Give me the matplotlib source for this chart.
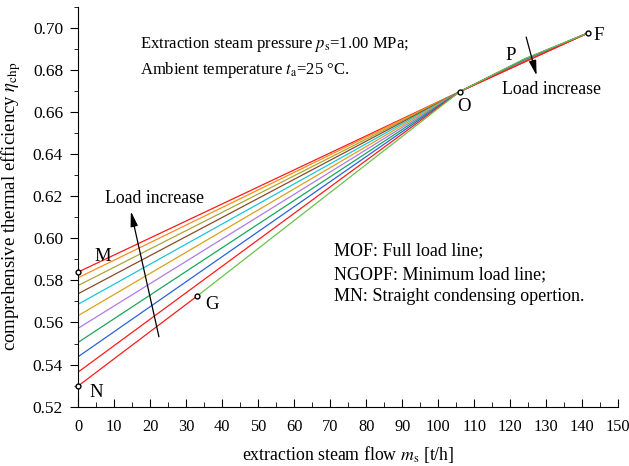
import numpy as np
import matplotlib.pyplot as plt

plt.rcParams['font.family'] = ['Liberation Serif', 'DejaVu Serif']
plt.rcParams['mathtext.fontset'] = 'stix'
plt.rcParams['font.size'] = 12

# working lines: efficiency at ms = 0, all meet at O and end at F
start_eff = [0.5840, 0.5813, 0.5776, 0.5737, 0.5687, 0.5633, 0.5573, 0.5506, 0.5438, 0.5365]
mid_eff = [0.6838, 0.6842, 0.6845, 0.6846, 0.6847, 0.6848, 0.6849, 0.6850, 0.6851, 0.6838]
line_colors = ['#ff1a1a', '#ff8c1a', '#a8a832', '#8b4a2a', '#1ac6d9',
               '#d9a21a', '#b07ae6', '#1aa65a', '#2a62d9', '#ff1a1a']

# key points
M = (0, 0.5840)
N = (0, 0.5299)
G = (32.9, 0.5724)
O = (106.0, 0.6697)
P_x = 124.0
F = (141.7, 0.6976)
min_mid = 0.6853

fig, ax = plt.subplots(figsize=(6.29, 4.66), dpi=100)
fig.subplots_adjust(left=0.1245, right=0.983, bottom=0.1273, top=0.9856)

for s, m, c in zip(start_eff, mid_eff, line_colors):
    ax.plot([0, O[0], P_x, F[0]], [s, O[1], m, F[1]], color=c, lw=0.9)

# minimum load line N-G-O-P-F
ax.plot([N[0], G[0]], [N[1], G[1]], color='#ff1a1a', lw=0.9)
ax.plot([G[0], O[0], P_x, F[0]], [G[1], O[1], min_mid, F[1]], color='#6cc24a', lw=0.9)

for pt in [M, N, G, O, F]:
    ax.plot(pt[0], pt[1], 'o', ms=3.5, mfc='white', mec='black', mew=1.0, zorder=5, clip_on=False)

pt_fs = 13.5
ax.text(4.5, 0.5915, 'M', fontsize=pt_fs, va='center')
ax.text(3.0, 0.5269, 'N', fontsize=pt_fs, va='center')
ax.text(37.1, 0.5685, 'G', fontsize=pt_fs, va='center', ha='center')
ax.text(107.0, 0.6627, 'O', fontsize=pt_fs, va='center', ha='center')
ax.text(144.4, 0.6964, 'F', fontsize=pt_fs, va='center', ha='center')
ax.text(120.1, 0.6866, 'P', fontsize=pt_fs, va='center', ha='center')

arrow = dict(arrowstyle='-|>,head_length=0.9,head_width=0.22', color='black', lw=0.9,
             mutation_scale=10, shrinkA=0, shrinkB=0)
ax.annotate('', xy=(14.6, 0.6128), xytext=(22.4, 0.5532), arrowprops=arrow)
ax.text(21.3, 0.6189, 'Load increase', ha='center', va='center', fontsize=12.8)
ax.annotate('', xy=(127.3, 0.6773), xytext=(124.4, 0.6956), arrowprops=arrow)
ax.text(131.5, 0.6706, 'Load increase', ha='center', va='center', fontsize=12.8)

ax.text(17, 0.6921, r'Extraction steam pressure $p_\mathrm{s}$=1.00 MPa;', va='center')
ax.text(17, 0.6797, r'Ambient temperature $t_\mathrm{a}$=25 °C.', va='center')

ax.text(71, 0.5939, 'MOF: Full load line;', va='center', fontsize=13)
ax.text(71, 0.5828, 'NGOPF: Minimum load line;', va='center', fontsize=13)
ax.text(71, 0.5724, 'MN: Straight condensing opertion.', va='center', fontsize=13)

ax.set_xlim(0, 150)
ax.set_ylim(0.52, 0.71)
ax.set_xticks(np.arange(0, 151, 10))
ax.set_xticks(np.arange(0, 151, 5), minor=True)
ax.set_yticks(np.arange(0.52, 0.701, 0.02))
ax.set_yticks(np.arange(0.52, 0.711, 0.01), minor=True)
ax.yaxis.set_major_formatter(plt.FormatStrFormatter('%.2f'))
ax.tick_params(axis='x', which='both', direction='in', pad=9, labelsize=11.8)
ax.tick_params(axis='x', which='major', length=6)
ax.tick_params(axis='x', which='minor', length=3.5)
ax.tick_params(axis='y', which='both', direction='out', labelsize=12.5, pad=5)
ax.tick_params(axis='y', which='major', length=6)
ax.tick_params(axis='y', which='minor', length=3)
for sp in ['top', 'right']:
    ax.spines[sp].set_visible(False)

ax.set_xlabel(r'extraction steam flow $m_\mathrm{s}$ [t/h]', labelpad=6, fontsize=12.8)
ax.set_ylabel(r'comprehensive thermal efficiency $\eta_\mathrm{chp}$', labelpad=7, fontsize=13.5)

fig.savefig('out.png', dpi=100)
